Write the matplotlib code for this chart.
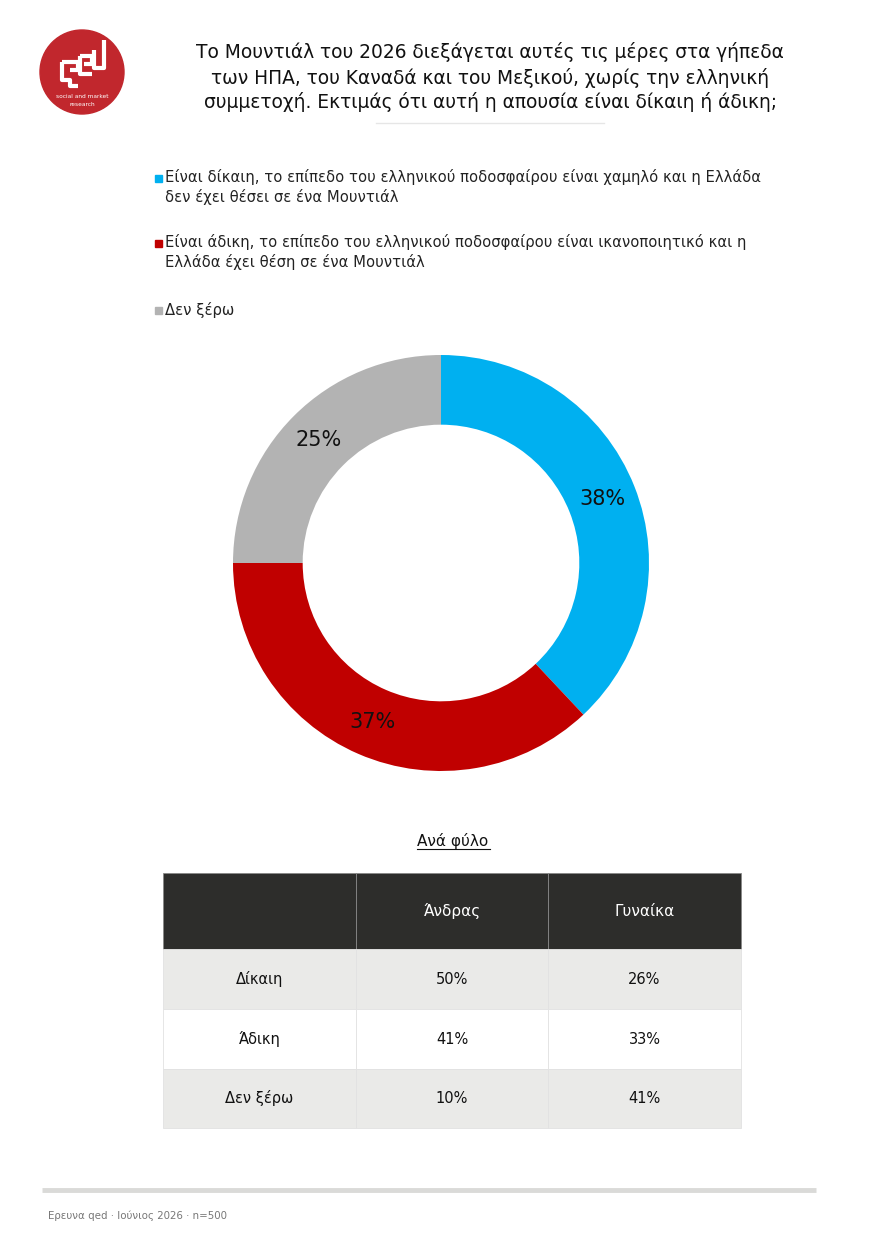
import matplotlib
matplotlib.use("Agg")
import matplotlib.pyplot as plt
from matplotlib.patches import Rectangle, Circle

# ---------------- data ----------------
title_lines = [
    "Το Μουντιάλ του 2026 διεξάγεται αυτές τις μέρες στα γήπεδα",
    "των ΗΠΑ, του Καναδά και του Μεξικού, χωρίς την ελληνική",
    "συμμετοχή. Εκτιμάς ότι αυτή η απουσία είναι δίκαιη ή άδικη;",
]
categories = [
    "Είναι δίκαιη, το επίπεδο του ελληνικού ποδοσφαίρου είναι χαμηλό και η Ελλάδα\nδεν έχει θέσει σε ένα Μουντιάλ",
    "Είναι άδικη, το επίπεδο του ελληνικού ποδοσφαίρου είναι ικανοποιητικό και η\nΕλλάδα έχει θέση σε ένα Μουντιάλ",
    "Δεν ξέρω",
]
values = [38, 37, 25]
colors = ["#00B0F0", "#C00000", "#B3B3B3"]

table_title = "Ανά φύλο"
table_columns = ["Άνδρας", "Γυναίκα"]
table_rows = ["Δίκαιη", "Άδικη", "Δεν ξέρω"]
table_values = [[50, 26], [41, 33], [10, 41]]
footer = "Ερευνα qed · Ιούνιος 2026 · n=500"

FONT = ["DejaVu Sans"]
plt.rcParams["font.family"] = FONT

W, H = 880, 1245
fig = plt.figure(figsize=(W / 100, H / 100), dpi=100)
bg = fig.add_axes([0, 0, 1, 1])
bg.set_xlim(0, W)
bg.set_ylim(H, 0)
bg.axis("off")

# ---------------- logo ----------------
bg.add_patch(Circle((82, 72), 42, color="#C1272D", zorder=2))
lw = 3
segs = [
    [(62, 62), (62, 80), (70, 80), (70, 86), (78, 86)],
    [(62, 62), (78, 62), (78, 70), (70, 70)],
    [(80, 56), (80, 74), (92, 74)],
    [(80, 56), (92, 56), (92, 64), (84, 64)],
    [(94, 50), (94, 68), (104, 68), (104, 40)],
]
for s in segs:
    xs, ys = zip(*s)
    bg.plot(xs, ys, color="white", lw=lw, solid_capstyle="butt", zorder=3)
bg.text(82, 97, "social and market", color="white", fontsize=4.2, ha="center", va="center", zorder=3)
bg.text(82, 104, "research", color="white", fontsize=4.2, ha="center", va="center", zorder=3)

# ---------------- title ----------------
for i, (line, y) in enumerate(zip(title_lines, [52, 78, 102])):
    bg.text(490, y, line, fontsize=13.4, ha="center", va="center", color="#111111")
bg.plot([376, 604], [123, 123], color="#E6E6E6", lw=1)

# ---------------- legend ----------------
leg_y = [187, 252, 310]
for cat, col, y in zip(categories, colors, leg_y):
    n = cat.count("\n") + 1
    y0 = y - (n - 1) * 9
    bg.add_patch(Rectangle((155, y0 - 3.5), 7, 7, color=col))
    bg.text(165, y, cat, fontsize=10.6, ha="left", va="center", color="#222222",
            linespacing=1.3)

# ---------------- donut ----------------
cx, cy, R = 441, 563, 208
pax = fig.add_axes([(cx - R) / W, (H - cy - R) / H, 2 * R / W, 2 * R / H])
wedges, texts, autotexts = pax.pie(
    values, colors=colors, startangle=90, counterclock=False,
    wedgeprops=dict(width=0.335, linewidth=0), autopct="%d%%",
    pctdistance=0.835, textprops=dict(fontsize=15, color="#111111"))
pax.set_xlim(-1, 1)
pax.set_ylim(-1, 1)
pax.set_aspect("equal")
pax.axis("off")

# ---------------- table ----------------
bg.text(453, 841, table_title, fontsize=11, ha="center", va="center", color="#111111")
bg.plot([417, 490], [849, 849], color="#111111", lw=0.8)

col_x = [163, 356, 548, 741]
row_y = [873, 949, 1009, 1069, 1128]
# header
for j in range(3):
    bg.add_patch(Rectangle((col_x[j], row_y[0]), col_x[j + 1] - col_x[j], row_y[1] - row_y[0],
                           facecolor="#2D2D2B", edgecolor="#888888", lw=0.6))
for j, c in enumerate(table_columns):
    bg.text((col_x[j + 1] + col_x[j + 2]) / 2, (row_y[0] + row_y[1]) / 2, c, fontsize=11,
            ha="center", va="center", color="white")
for i, (rname, vals) in enumerate(zip(table_rows, table_values)):
    fc = "#EAEAE8" if i % 2 == 0 else "white"
    for j in range(3):
        bg.add_patch(Rectangle((col_x[j], row_y[i + 1]), col_x[j + 1] - col_x[j], row_y[i + 2] - row_y[i + 1],
                               facecolor=fc, edgecolor="#E2E2E2", lw=0.6))
    yc = (row_y[i + 1] + row_y[i + 2]) / 2
    bg.text((col_x[0] + col_x[1]) / 2, yc, rname, fontsize=10.5, ha="center", va="center", color="#111111")
    for j, v in enumerate(vals):
        bg.text((col_x[j + 1] + col_x[j + 2]) / 2, yc, f"{v}%", fontsize=10.5,
                ha="center", va="center", color="#111111")

# ---------------- footer ----------------
bg.plot([42, 816], [1190, 1190], color="#DADAD8", lw=3.5, solid_capstyle="butt")
bg.text(48, 1216, footer, fontsize=7.4, ha="left", va="center", color="#777777")

fig.savefig("out.png", dpi=100)
